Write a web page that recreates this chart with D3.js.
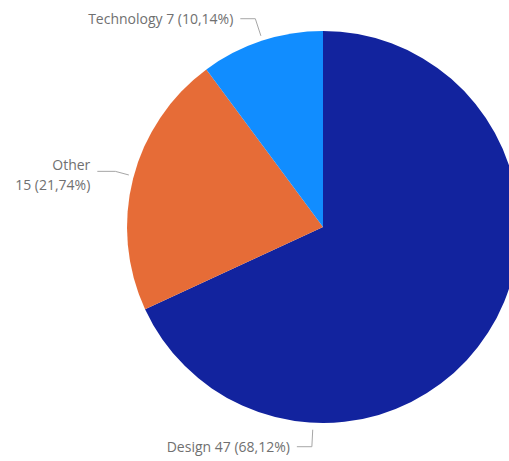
<!DOCTYPE html>
<html>
<head>
<meta charset="utf-8">
<script src="https://cdn.jsdelivr.net/npm/d3@7"></script>
<style>
  html, body { margin: 0; padding: 0; background: #fff; overflow: hidden; }
  svg { display: block; }
  text { font-family: "Open Sans", "Segoe UI", sans-serif; font-size: 14px; fill: #707070; }
</style>
</head>
<body>
<svg id="chart" width="509" height="461"></svg>
<script>
// Category breakdown
const categories = ["Design", "Other", "Technology"];
const counts = [47, 15, 7];
const colors = ["#12239E", "#E66C37", "#118DFF"];

const width = 509, height = 461;
const cx = 323, cy = 227, radius = 196;

const svg = d3.select("#chart");
const g = svg.append("g").attr("transform", `translate(${cx},${cy})`);

const total = d3.sum(counts);
const data = categories.map((c, i) => ({ name: c, value: counts[i], color: colors[i] }));

const pie = d3.pie().value(d => d.value).sort(null);
const arc = d3.arc().innerRadius(0).outerRadius(radius);
const arcs = pie(data);

g.selectAll("path.slice")
  .data(arcs)
  .join("path")
  .attr("class", "slice")
  .attr("d", arc)
  .attr("fill", d => d.data.color);

// Leader-line layout per slice: angle of the line near the rim (degrees clockwise from top),
// start radius, elbow radius and length of the horizontal run (always towards the left).
const leaders = {
  "Design":     { angle: 182.9, start: 203, elbow: 220, run: 15 },
  "Other":      { angle: 285,   start: 201, elbow: 215, run: 18 },
  "Technology": { angle: 342,   start: 201, elbow: 219, run: 15 }
};
const gap = 7;

const pct = v => d3.format(".2f")(v / total * 100).replace(".", ",") + "%";
const polar = (deg, r) => {
  const a = deg * Math.PI / 180;
  return [Math.sin(a) * r, -Math.cos(a) * r];
};

arcs.forEach(d => {
  const L = leaders[d.data.name];
  const p0 = polar(L.angle, L.start);
  const p1 = polar(L.angle, L.elbow);
  const p2 = [p1[0] - L.run, p1[1]];
  g.append("polyline")
    .attr("points", [p0, p1, p2].map(p => p.join(",")).join(" "))
    .attr("fill", "none")
    .attr("stroke", "#a6a6a6")
    .attr("stroke-width", 1);

  const x = p2[0] - gap;
  const t = g.append("text").attr("text-anchor", "end");
  if (d.data.name === "Other") {
    t.append("tspan").attr("x", x).attr("y", p2[1] - 6).attr("dy", "0.35em").text(d.data.name);
    t.append("tspan").attr("x", x).attr("y", p2[1] + 14).attr("dy", "0.35em")
      .text(`${d.data.value} (${pct(d.data.value)})`);
  } else {
    t.attr("x", x).attr("y", p2[1]).attr("dy", "0.35em")
      .text(`${d.data.name} ${d.data.value} (${pct(d.data.value)})`);
  }
});
</script>
</body>
</html>
